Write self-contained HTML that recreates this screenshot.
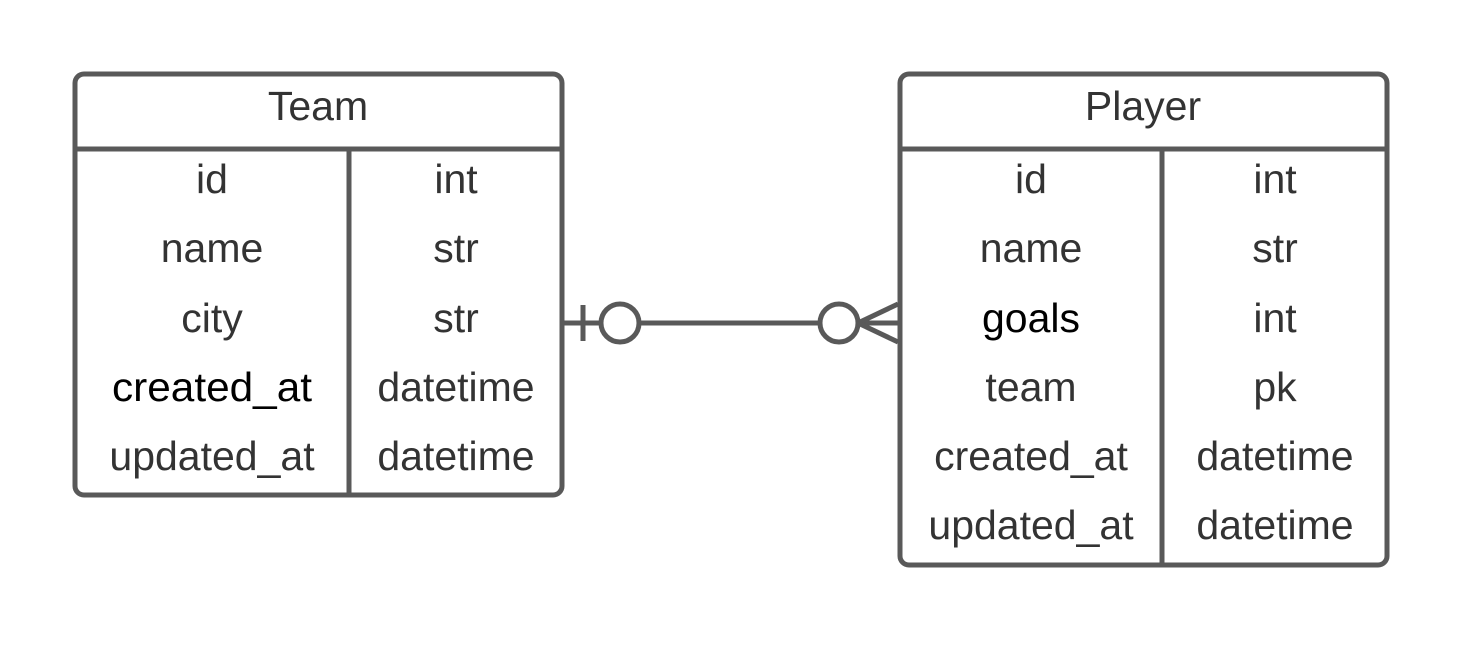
<!DOCTYPE html>
<html><head><style>html,body{margin:0;padding:0;background:#fff;}</style></head>
<body>
<svg width="1463" height="641" xmlns="http://www.w3.org/2000/svg" font-family="Liberation Sans, sans-serif" font-size="41" text-anchor="middle">
<g fill="none" stroke="#595959" stroke-width="5">
<rect x="75" y="74" width="487" height="421" rx="9"/>
<line x1="75" y1="149" x2="562" y2="149"/>
<line x1="349" y1="149" x2="349" y2="495"/>
<rect x="900" y="74" width="487" height="491" rx="9"/>
<line x1="900" y1="149" x2="1387" y2="149"/>
<line x1="1162" y1="149" x2="1162" y2="565"/>
<line x1="562" y1="323" x2="601" y2="323"/>
<line x1="639" y1="323" x2="820" y2="323"/>
<line x1="858" y1="323" x2="898" y2="323"/>
<line x1="583" y1="305" x2="583" y2="341"/>
<circle cx="620" cy="323" r="19"/>
<circle cx="839" cy="323" r="19"/>
<line x1="858" y1="323" x2="898" y2="304"/>
<line x1="858" y1="323" x2="898" y2="342"/>
</g>
<g fill="#333">
<text x="318" y="120">Team</text>
<text x="212" y="193">id</text><text x="456" y="193">int</text>
<text x="212" y="262">name</text><text x="456" y="262">str</text>
<text x="212" y="332">city</text><text x="456" y="332">str</text>
<text x="212" y="401" fill="#000" textLength="200" lengthAdjust="spacingAndGlyphs">created_at</text><text x="456" y="401">datetime</text>
<text x="212" y="470">updated_at</text><text x="456" y="470">datetime</text>
<text x="1143" y="120">Player</text>
<text x="1031" y="193">id</text><text x="1275" y="193">int</text>
<text x="1031" y="262">name</text><text x="1275" y="262">str</text>
<text x="1031" y="332" fill="#000">goals</text><text x="1275" y="332">int</text>
<text x="1031" y="401">team</text><text x="1275" y="401">pk</text>
<text x="1031" y="470">created_at</text><text x="1275" y="470">datetime</text>
<text x="1031" y="539">updated_at</text><text x="1275" y="539">datetime</text>
</g>
</svg>
</body></html>
